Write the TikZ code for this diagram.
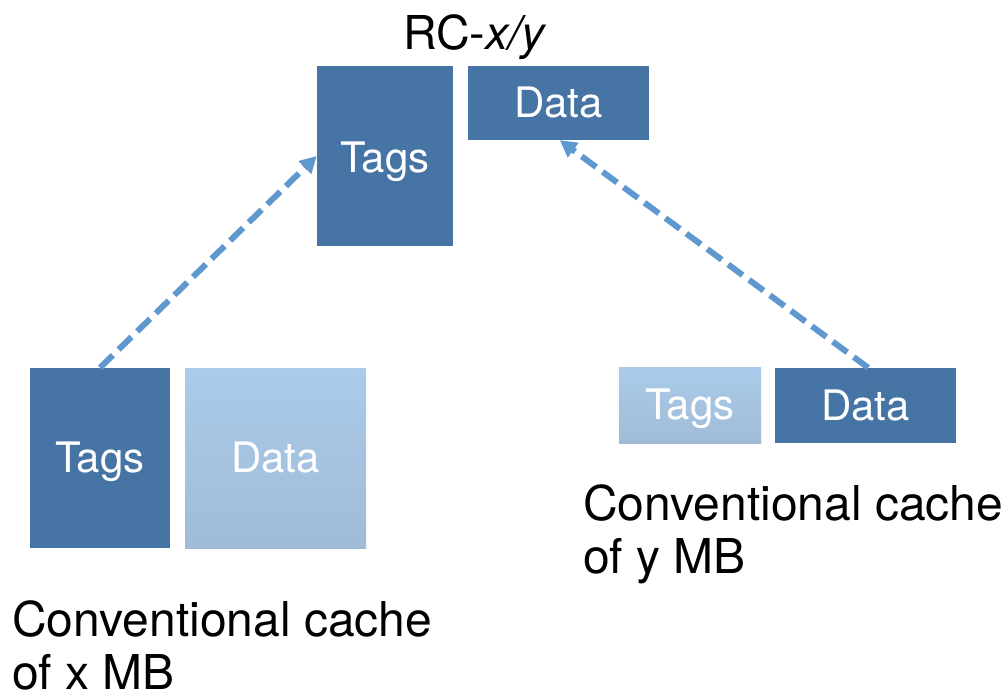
\documentclass[tikz,border=0pt]{standalone}
\usepackage{fontspec}
\setmainfont{TeX Gyre Heros}
\usetikzlibrary{arrows.meta}
\definecolor{darkbox}{HTML}{4674A4}
\definecolor{lighttop}{HTML}{AACBEA}
\definecolor{lightbot}{HTML}{A1BBD7}
\definecolor{arrowc}{HTML}{5F98CF}
\begin{document}
\begin{tikzpicture}[x=0.75pt,y=-0.75pt,
  cellbase/.style={draw=none,text=white,inner sep=0pt,text height=22pt,text depth=0pt,
    font=\fontsize{31.5}{36}\selectfont},
  darkcell/.style={cellbase,fill=darkbox},
  lightcell/.style={cellbase,top color=lighttop,bottom color=lightbot},
  caption/.style={anchor=north west,align=left,inner sep=0pt,
    font=\fontsize{36}{39.75}\selectfont},
  link/.style={draw=arrowc,line width=4.5pt,dash pattern=on 13.5pt off 6pt,
    -{Triangle[length=12.5pt,width=13pt]}}]
\useasboundingbox (0,0) rectangle (1006,695);
\node[font=\fontsize{35}{40}\selectfont,inner sep=0pt,text height=25pt,text depth=0pt] (rc) at (475,33) {RC-\textit{x/y}};
\node[darkcell,minimum width=102pt,minimum height=135pt,text height=25pt] (ttags) at (385,156) {Tags};
\node[darkcell,minimum width=135.75pt,minimum height=55.5pt] (tdata) at (558.5,103) {Data};
\node[darkcell,minimum width=105pt,minimum height=135pt] (ltags) at (100,458) {Tags};
\node[lightcell,minimum width=135.75pt,minimum height=135pt] (ldata) at (275.5,458) {Data};
\node[lightcell,minimum width=106.5pt,minimum height=57pt] (rtags) at (690,405) {Tags};
\node[darkcell,minimum width=135.75pt,minimum height=56.25pt] (rdata) at (865.5,405.5) {Data};
\node[caption] (rcap) at (583,484) {Conventional cache\\of y MB};
\node[caption] (lcap) at (12,600) {Conventional cache\\of x MB};
\draw[link] (ltags.north) -- (ttags.west);
\draw[link] ([xshift=2pt]rdata.north) -- ([xshift=1pt]tdata.south);
\end{tikzpicture}
\end{document}
